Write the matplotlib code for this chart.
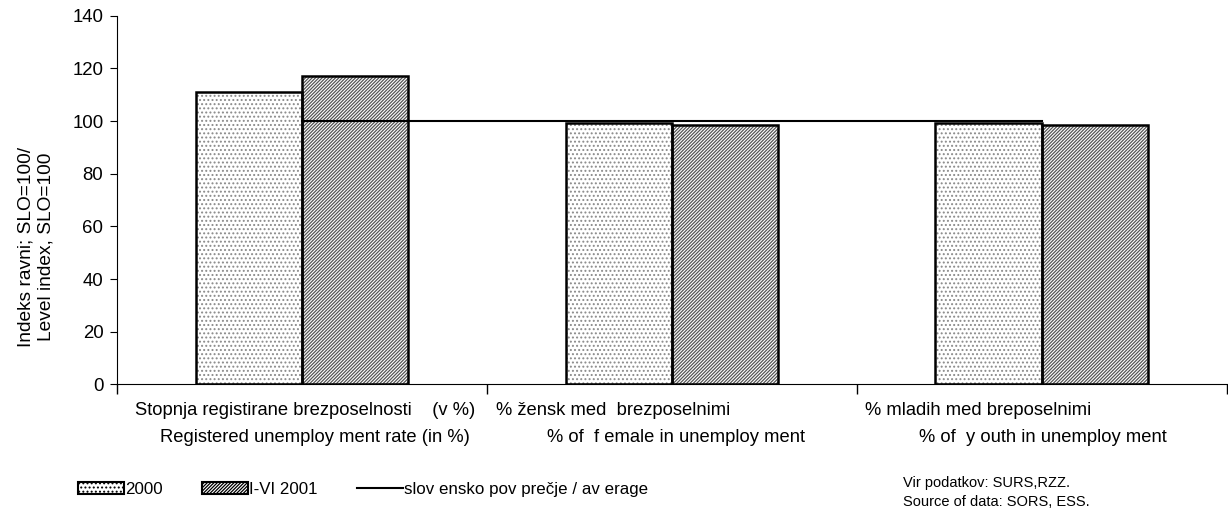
import numpy as np
import matplotlib
matplotlib.use('Agg')
import matplotlib.pyplot as plt
from matplotlib.patches import Patch
from matplotlib.lines import Line2D

# Data
categories_si = ['Stopnja registirane brezposelnosti    (v %)', '% žensk med  brezposelnimi',
                 '% mladih med breposelnimi']
categories_en = ['Registered unemploy ment rate (in %)', '% of  f emale in unemploy ment',
                 '% of  y outh in unemploy ment']
values_2000 = [110.9, 99.4, 99.4]
values_2001 = [117.1, 98.5, 98.6]
average = [100, 100, 100]
series_names = ['2000', 'I-VI 2001', 'slov ensko pov prečje / av erage']
y_ticks = [0, 20, 40, 60, 80, 100, 120, 140]


def main():
    plt.rcParams['font.family'] = ['Liberation Sans', 'DejaVu Sans']
    plt.rcParams['hatch.linewidth'] = 0.9

    fig = plt.figure(figsize=(12.28, 5.11), dpi=100)
    ax = fig.add_axes([0.0955, 0.248, 0.9033, 0.721])

    x = np.arange(len(values_2000))
    w = 0.2875

    # hatched fills, then black outlines on top
    ax.bar(x - w / 2, values_2000, w, color='white', edgecolor='#8a8a8a', hatch='....', linewidth=0)
    ax.bar(x + w / 2, values_2001, w, color='white', edgecolor='#555555', hatch='//////////', linewidth=0)
    ax.bar(x - w / 2, values_2000, w, fill=False, edgecolor='black', linewidth=1.8)
    ax.bar(x + w / 2, values_2001, w, fill=False, edgecolor='black', linewidth=1.8)
    ax.plot(x, average, color='black', linewidth=1.5)

    ax.set_xlim(-0.5, len(x) - 0.5)
    ax.set_ylim(0, 140)
    ax.set_yticks(y_ticks)
    ax.tick_params(axis='y', labelsize=13.4, length=5, direction='out', pad=5)
    ax.set_xticks(np.arange(len(x) + 1) - 0.5)
    ax.set_xticklabels([])
    ax.tick_params(axis='x', length=7, direction='out', width=1)
    ax.spines['top'].set_visible(False)
    ax.spines['right'].set_visible(False)

    # category labels, two lines each
    off_si = [0.009, -0.158, -0.173]
    off_en = [0.035, 0.01, 0.003]
    trans = ax.get_xaxis_transform()
    for i in range(len(x)):
        ax.text(x[i] + off_si[i], -0.07, categories_si[i], transform=trans, ha='center', va='center',
                fontsize=13.2)
        ax.text(x[i] + off_en[i], -0.145, categories_en[i], transform=trans, ha='center', va='center',
                fontsize=13.2)

    fig.text(0.0295, 0.517, 'Indeks ravni; SLO=100/\nLevel index, SLO=100', rotation=90,
             ha='center', va='center', fontsize=13.8, linespacing=1.25)

    handles = [Patch(facecolor='white', edgecolor='#8a8a8a', hatch='....', linewidth=0),
               Patch(facecolor='white', edgecolor='#555555', hatch='//////////', linewidth=0),
               Line2D([0], [0], color='black', linewidth=1.5)]
    leg = fig.legend(handles, series_names, loc='center left', bbox_to_anchor=(0.051, 0.042), ncol=3,
                     frameon=False, fontsize=12.2, handlelength=2.7, handletextpad=0.1,
                     columnspacing=2.3, handleheight=0.65)
    for p in leg.get_patches():
        p.set_edgecolor('black')
        p.set_linewidth(1.5)

    fig.text(0.735, 0.055, 'Vir podatkov: SURS,RZZ.', fontsize=10.5, va='center')
    fig.text(0.735, 0.018, 'Source of data: SORS, ESS.', fontsize=10.5, va='center')

    plt.savefig('out.png', dpi=100)


if __name__ == '__main__':
    main()
